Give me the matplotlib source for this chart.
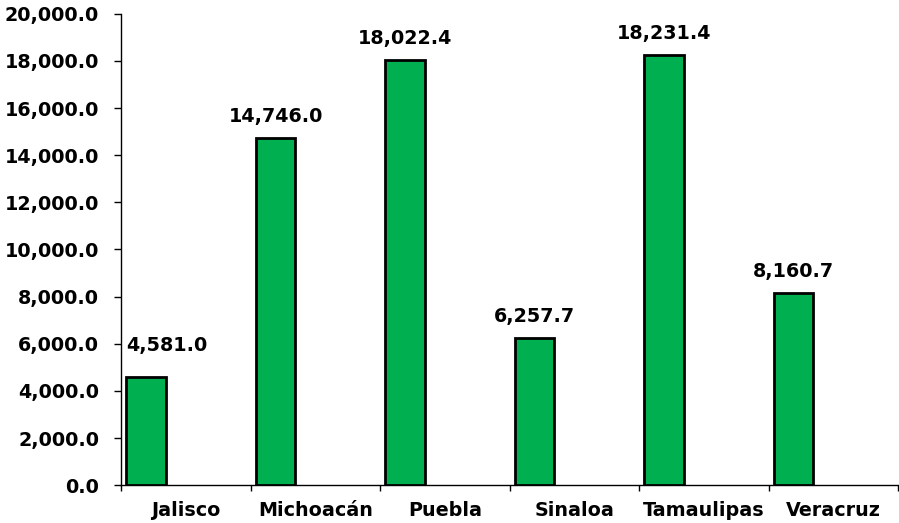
import matplotlib
matplotlib.use("Agg")
import matplotlib.pyplot as plt
import numpy as np
from matplotlib.ticker import FuncFormatter, FixedLocator

categories = ["Jalisco", "Michoacán", "Puebla", "Sinaloa", "Tamaulipas", "Veracruz"]
values = [4581.0, 14746.0, 18022.4, 6257.7, 18231.4, 8160.7]
yticks = [0, 2000, 4000, 6000, 8000, 10000, 12000, 14000, 16000, 18000, 20000]

FONT = "DejaVu Sans"
FS = 13.8

fig = plt.figure(figsize=(8.99, 5.23), dpi=100)
ax = fig.add_axes([0.1346, 0.0721, 0.8643, 0.9017])

x = np.arange(len(categories))
bar_offset = -0.307
bar_width = 0.305
bars = ax.bar(x + bar_offset, values, width=bar_width, color="#00B050",
              edgecolor="black", linewidth=2.0, zorder=3)

for i, (xi, v) in enumerate(zip(x, values)):
    if i == 0:
        # first label pushed clear of the value axis
        ax.annotate(f"{v:,.1f}", (xi + bar_offset - bar_width / 2, v),
                    xytext=(0, 18.7), textcoords="offset points",
                    ha="left", va="baseline",
                    fontsize=FS, fontweight="bold", family=FONT)
    else:
        ax.annotate(f"{v:,.1f}", (xi + bar_offset, v), xytext=(0, 11.5),
                    textcoords="offset points", ha="center", va="baseline",
                    fontsize=FS, fontweight="bold", family=FONT)

ax.set_xlim(-0.5, len(categories) - 0.5)
ax.set_ylim(0, 20000)

ax.set_yticks(yticks)
ax.yaxis.set_major_formatter(FuncFormatter(lambda v, p: f"{v:,.1f}"))
ax.tick_params(axis="y", direction="out", length=4.8, width=1, pad=11,
               labelsize=FS)

ax.xaxis.set_major_locator(FixedLocator(np.arange(len(categories) + 1) - 0.5))
ax.set_xticklabels([], minor=False)
ax.set_xticks(x, minor=True)
ax.set_xticklabels(categories, minor=True)
ax.tick_params(axis="x", which="major", direction="out", length=4, width=1)
ax.tick_params(axis="x", which="minor", length=0, pad=11, labelsize=FS)

for lab in ax.get_yticklabels() + ax.get_xticklabels(minor=True):
    lab.set_fontweight("bold")
    lab.set_family(FONT)

for s in ["top", "right"]:
    ax.spines[s].set_visible(False)
for s in ["left", "bottom"]:
    ax.spines[s].set_linewidth(1)
    ax.spines[s].set_color("black")

fig.savefig("out.png", dpi=100)
